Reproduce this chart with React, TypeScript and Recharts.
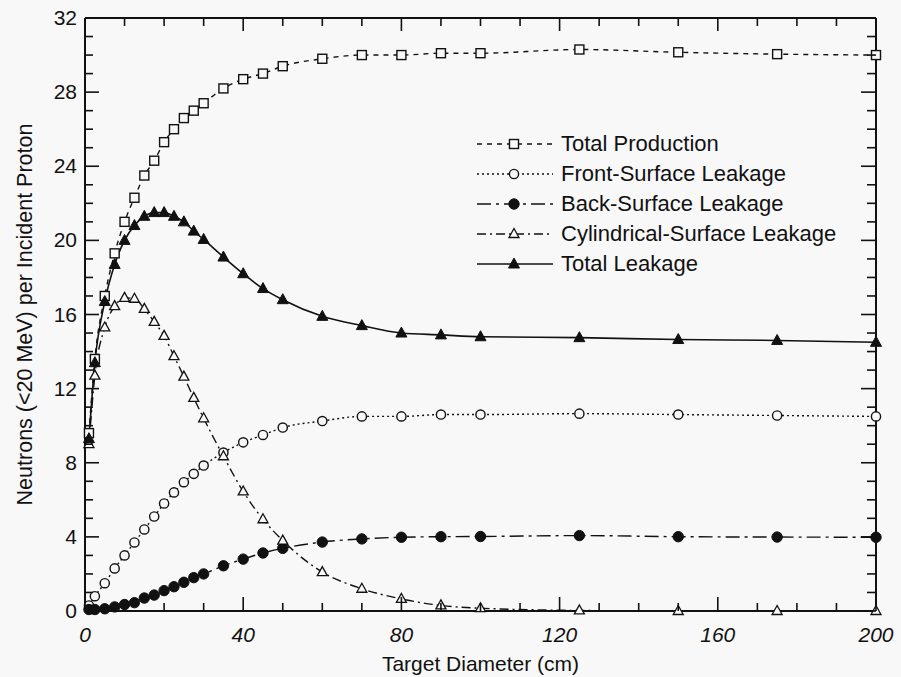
import { LineChart, Line, XAxis, YAxis, Legend } from 'recharts';

const diameters = [1, 2.5, 5, 7.5, 10, 12.5, 15, 17.5, 20, 22.5, 25, 27.5, 30, 35, 40, 45, 50, 60, 70, 80, 90, 100, 125, 150, 175, 200];
const totalProduction = [9.6, 13.6, 17.0, 19.3, 21.0, 22.3, 23.5, 24.3, 25.3, 26.0, 26.6, 27.0, 27.4, 28.2, 28.7, 29.0, 29.4, 29.8, 30.0, 30.0, 30.1, 30.1, 30.3, 30.15, 30.05, 30.0];
const frontSurface = [0.3, 0.8, 1.5, 2.3, 3.0, 3.7, 4.4, 5.1, 5.8, 6.4, 6.95, 7.4, 7.85, 8.55, 9.1, 9.5, 9.9, 10.25, 10.5, 10.5, 10.6, 10.6, 10.65, 10.6, 10.55, 10.5];
const backSurface = [0.08, 0.08, 0.12, 0.22, 0.35, 0.45, 0.7, 0.86, 1.1, 1.31, 1.55, 1.8, 2.0, 2.44, 2.8, 3.13, 3.38, 3.72, 3.89, 3.98, 4.01, 4.02, 4.07, 4.01, 3.99, 3.98];
const cylindrical = [9.0, 12.7, 15.3, 16.45, 16.9, 16.85, 16.3, 15.6, 14.85, 13.75, 12.65, 11.5, 10.4, 8.35, 6.45, 4.95, 3.8, 2.1, 1.2, 0.65, 0.3, 0.15, 0.03, 0, 0, 0];
const totalLeakage = [9.3, 13.4, 16.7, 18.7, 20.0, 20.8, 21.3, 21.5, 21.5, 21.3, 21.0, 20.5, 20.05, 19.1, 18.2, 17.4, 16.8, 15.9, 15.4, 15.0, 14.9, 14.8, 14.75, 14.65, 14.6, 14.5];

const xTicks = [0, 10, 20, 30, 40, 50, 60, 70, 80, 90, 100, 110, 120, 130, 140, 150, 160, 170, 180, 190, 200];
const yTicks = [0, 1, 2, 3, 4, 5, 6, 7, 8, 9, 10, 11, 12, 13, 14, 15, 16, 17, 18, 19, 20, 21, 22, 23, 24, 25, 26, 27, 28, 29, 30, 31, 32];

const data = diameters.map((d, i) => ({
  d,
  prod: totalProduction[i],
  front: frontSurface[i],
  back: backSurface[i],
  cyl: cylindrical[i],
  leak: totalLeakage[i],
}));

const INK = '#111';
const BG = '#f8f8f8';
const FONT = '"Liberation Sans", Arial, Helvetica, sans-serif';

type Shape = 'square' | 'circle' | 'disc' | 'tri' | 'solidTri';

const series: { key: string; name: string; dash?: string; shape: Shape }[] = [
  { key: 'prod', name: 'Total Production', dash: '5 5', shape: 'square' },
  { key: 'front', name: 'Front-Surface Leakage', dash: '2 3', shape: 'circle' },
  { key: 'back', name: 'Back-Surface Leakage', dash: '14 5 3 5', shape: 'disc' },
  { key: 'cyl', name: 'Cylindrical-Surface Leakage', dash: '9 4 2 4', shape: 'tri' },
  { key: 'leak', name: 'Total Leakage', shape: 'solidTri' },
];

const marker = (shape: Shape, cx: number, cy: number, key?: string) => {
  switch (shape) {
    case 'square':
      return <rect key={key} x={cx - 4.5} y={cy - 4.5} width={9} height={9} fill={BG} stroke={INK} strokeWidth={1.4} />;
    case 'circle':
      return <circle key={key} cx={cx} cy={cy} r={4.6} fill={BG} stroke={INK} strokeWidth={1.4} />;
    case 'disc':
      return <circle key={key} cx={cx} cy={cy} r={5.2} fill={INK} stroke={INK} />;
    case 'tri':
      return <polygon key={key} points={`${cx},${cy - 5.5} ${cx + 5},${cy + 3.5} ${cx - 5},${cy + 3.5}`} fill={BG} stroke={INK} strokeWidth={1.3} />;
    default:
      return <polygon key={key} points={`${cx},${cy - 6} ${cx + 5.5},${cy + 4} ${cx - 5.5},${cy + 4}`} fill={INK} stroke={INK} />;
  }
};

const makeDot = (shape: Shape) => (props: any) => {
  if (props.cx == null || props.cy == null) return <g key={`${shape}-${props.index}`} />;
  return marker(shape, props.cx, props.cy, `${shape}-${props.index}`);
};

// ticks point into the plot; long ones at labelled values
const bottomTick = (p: any) => {
  const v = p.payload.value;
  const major = v % 40 === 0;
  const x = Number(p.x);
  const y = Number(p.y);
  return (
    <g key={`b-${v}`}>
      <path d={`M${x},${y}V${y - (major ? 14 : 8)}`} stroke={INK} strokeWidth={1.6} fill="none" />
      {major && (
        <text x={x} y={y + 31} textAnchor="middle" fontStyle="italic" fontSize={21} fontFamily={FONT} fill={INK}>
          {v}
        </text>
      )}
    </g>
  );
};

const topTick = (p: any) => {
  const major = p.payload.value % 40 === 0;
  const x = Number(p.x);
  const y = Number(p.y);
  return <path key={`t-${p.payload.value}`} d={`M${x},${y}V${y + (major ? 13 : 8)}`} stroke={INK} strokeWidth={1.6} fill="none" />;
};

const leftTick = (p: any) => {
  const v = p.payload.value;
  const major = v % 4 === 0;
  const x = Number(p.x);
  const y = Number(p.y);
  return (
    <g key={`l-${v}`}>
      <path d={`M${x},${y}H${x + (major ? 14 : 8)}`} stroke={INK} strokeWidth={1.6} fill="none" />
      {major && (
        <text x={x - 8} y={y + 7} textAnchor="end" fontSize={21} fontFamily={FONT} fill={INK}>
          {v}
        </text>
      )}
    </g>
  );
};

const rightTick = (p: any) => {
  const major = p.payload.value % 4 === 0;
  const x = Number(p.x);
  const y = Number(p.y);
  return <path key={`r-${p.payload.value}`} d={`M${x},${y}H${x - (major ? 15 : 9)}`} stroke={INK} strokeWidth={1.6} fill="none" />;
};

const YTitle = ({ viewBox }: any) => {
  const cy = viewBox.y + viewBox.height / 2;
  return (
    <text
      x={25}
      y={cy}
      transform={`rotate(-90 25 ${cy})`}
      textAnchor="middle"
      dominantBaseline="central"
      fontSize={21.5}
      fontFamily={FONT}
      fill={INK}
    >
      Neutrons (&lt;20 MeV) per Incident Proton
    </text>
  );
};

const LegendBox = () => (
  <div style={{ fontFamily: FONT, fontSize: 22, color: INK }}>
    {series.map((s) => (
      <div key={s.key} style={{ display: 'flex', alignItems: 'center', height: 30 }}>
        <svg width={76} height={20}>
          <line x1={0} x2={76} y1={10} y2={10} stroke={INK} strokeWidth={1.3} strokeDasharray={s.dash} />
          {marker(s.shape, 37, 10)}
        </svg>
        <span style={{ marginLeft: 8, whiteSpace: 'nowrap' }}>{s.name}</span>
      </div>
    ))}
  </div>
);

export default function App() {
  return (
    <div style={{ position: 'absolute', left: 0, top: 0, width: 901, height: 677, background: BG }}>
      <LineChart width={901} height={677} data={data} margin={{ top: 17, right: 24, bottom: 0, left: 0 }}>
        <XAxis
          xAxisId="bottom"
          dataKey="d"
          type="number"
          domain={[0, 200]}
          ticks={xTicks}
          interval={0}
          height={66}
          tickSize={0}
          tickMargin={0}
          tickLine={false}
          tick={bottomTick}
          axisLine={{ stroke: INK, strokeWidth: 2 }}
          label={{
            value: 'Target Diameter (cm)',
            position: 'insideBottom',
            offset: 6,
            fontSize: 21,
            fontFamily: FONT,
            fill: INK,
          }}
        />
        <XAxis
          xAxisId="top"
          orientation="top"
          dataKey="d"
          type="number"
          domain={[0, 200]}
          ticks={xTicks}
          interval={0}
          height={1}
          tickSize={0}
          tickMargin={0}
          tickLine={false}
          tick={topTick}
          axisLine={{ stroke: INK, strokeWidth: 2 }}
        />
        <YAxis
          yAxisId="left"
          type="number"
          domain={[0, 32]}
          ticks={yTicks}
          interval={0}
          width={85}
          tickSize={0}
          tickMargin={0}
          tickLine={false}
          tick={leftTick}
          axisLine={{ stroke: INK, strokeWidth: 2 }}
          label={<YTitle />}
        />
        <YAxis
          yAxisId="right"
          orientation="right"
          type="number"
          domain={[0, 32]}
          ticks={yTicks}
          interval={0}
          width={1}
          tickSize={0}
          tickMargin={0}
          tickLine={false}
          tick={rightTick}
          axisLine={{ stroke: INK, strokeWidth: 2 }}
        />
        <Legend
          layout="vertical"
          align="center"
          verticalAlign="middle"
          content={<LegendBox />}
          wrapperStyle={{ left: 477, top: 129, width: 'auto' }}
        />
        {/* invisible series so the top and right frame axes get drawn */}
        <Line
          xAxisId="top"
          yAxisId="right"
          dataKey="prod"
          stroke="none"
          dot={false}
          activeDot={false}
          legendType="none"
          isAnimationActive={false}
        />
        {series.map((s) => (
          <Line
            key={s.key}
            xAxisId="bottom"
            yAxisId="left"
            type="monotone"
            dataKey={s.key}
            name={s.name}
            stroke={INK}
            strokeWidth={s.shape === 'solidTri' ? 1.6 : 1.4}
            strokeDasharray={s.dash}
            dot={makeDot(s.shape)}
            activeDot={false}
            isAnimationActive={false}
          />
        ))}
      </LineChart>
    </div>
  );
}
